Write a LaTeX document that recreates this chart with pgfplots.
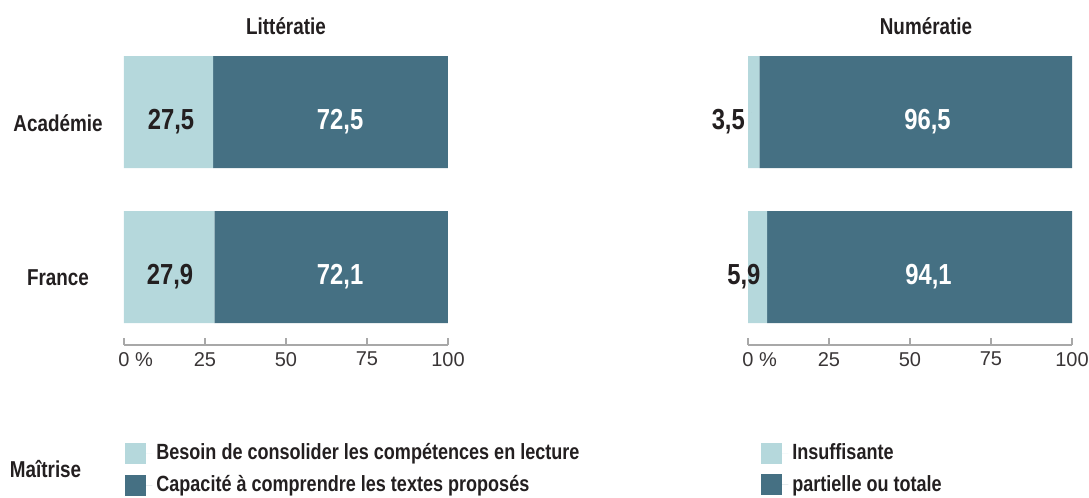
\documentclass[border=0pt]{standalone}
\usepackage{fontspec}
\setmainfont{Liberation Sans}[FakeStretch=0.82]
\newfontfamily\tickfont{Liberation Sans}
\usepackage{pgfplots}
\pgfplotsset{compat=1.18}
\definecolor{lightBar}{HTML}{B5D8DC}
\definecolor{darkBar}{HTML}{457083}
\definecolor{axisGrey}{HTML}{A8A8A8}
\definecolor{inkBlack}{HTML}{231F20}

\pgfplotsset{
  barbase/.style={
    scale only axis, width=162pt, height=144pt,
    xmin=0, xmax=100, ymin=-0.503, ymax=1.355,
    xbar stacked, bar width=56pt, clip=false,
    axis x line*=bottom, axis y line*=left,
    x axis line style={axisGrey, line width=0.8pt, -},
    y axis line style={draw=none},
    xtick={0,25,50,75,100}, xticklabels={0\rlap{ \%},25,50,75,100},
    xtick align=inside, major tick length=3.5pt,
    xtick style={axisGrey, line width=0.8pt},
    ytick={0,1}, ytick style={draw=none},
    xticklabel style={font=\tickfont\fontsize{10}{12}\selectfont, text=inkBlack!90},
    yticklabel style={font=\bfseries\fontsize{11.5}{13}\selectfont, text=inkBlack, anchor=center, xshift=-33pt, yshift=-5.5pt},
    /pgf/number format/assume math mode=true,
    title style={font=\bfseries\fontsize{11.5}{13}\selectfont, text=inkBlack, anchor=center, at={(0.5,1)}, yshift=9.5pt},
    legend style={draw=none, fill=none, anchor=north west, inner sep=0pt,
      font=\bfseries\fontsize{11}{13}\selectfont, text=inkBlack, row sep=2.5pt},
    legend cell align=left,
    legend image code/.code={\fill[#1, draw=none] (0pt,-5.25pt) rectangle (10.5pt,5.25pt);
      \path (0pt,0pt) -- (13.5pt,0pt);},
  },
  labelbase/.style={
    scale only axis, width=162pt, height=144pt,
    xmin=0, xmax=100, ymin=-0.503, ymax=1.355,
    hide axis, clip=false,
  },
  vallabel/.style={
    only marks, mark=*, mark size=0pt, mark options={draw=none, fill=none},
    nodes near coords, point meta=explicit symbolic,
    every node near coord/.append style={font=\bfseries\fontsize{14.5}{16}\selectfont, anchor=base, yshift=-8.5pt},
  },
}

\begin{document}
\begin{tikzpicture}
\path[use as bounding box] (-62pt,-76.5pt) rectangle (482.5pt,172.5pt);

% Littératie
\begin{axis}[barbase, at={(0,0)}, title={Littératie},
  yticklabels={France,Académie},
  legend style={at={(0.003,-0.327)}}]
\addplot[fill=lightBar, draw=none] coordinates {(27.9,0) (27.5,1)};
\addplot[fill=darkBar, draw=none] coordinates {(72.1,0) (72.5,1)};
\legend{Besoin de consolider les compétences en lecture, Capacité à comprendre les textes proposés}
\node[font=\bfseries\fontsize{11.5}{13}\selectfont, text=inkBlack] at (rel axis cs:-0.242,-0.431) {Maîtrise};
\end{axis}
\begin{axis}[labelbase, at={(0,0)}]
\addplot[vallabel, every node near coord/.append style={text=inkBlack}]
  coordinates {(14.5,1) [27,5] (14.2,0) [27,9]};
\addplot[vallabel, every node near coord/.append style={text=white}]
  coordinates {(66.7,1) [72,5] (66.7,0) [72,1]};
\end{axis}

% Numératie
\begin{axis}[barbase, at={(312pt,0)}, title={Numératie},
  title style={xshift=8pt}, ytick=\empty,
  legend style={at={(0.040,-0.327)}}]
\addplot[fill=lightBar, draw=none] coordinates {(5.9,0) (3.5,1)};
\addplot[fill=darkBar, draw=none] coordinates {(94.1,0) (96.5,1)};
\legend{Insuffisante, partielle ou totale}
\end{axis}
\begin{axis}[labelbase, at={(312pt,0)}]
\addplot[vallabel, every node near coord/.append style={text=inkBlack, anchor=base east}]
  coordinates {(1.2,1) [3,5] (6.0,0) [5,9]};
\addplot[vallabel, every node near coord/.append style={text=white}]
  coordinates {(55.4,1) [96,5] (55.7,0) [94,1]};
\end{axis}
\end{tikzpicture}
\end{document}
